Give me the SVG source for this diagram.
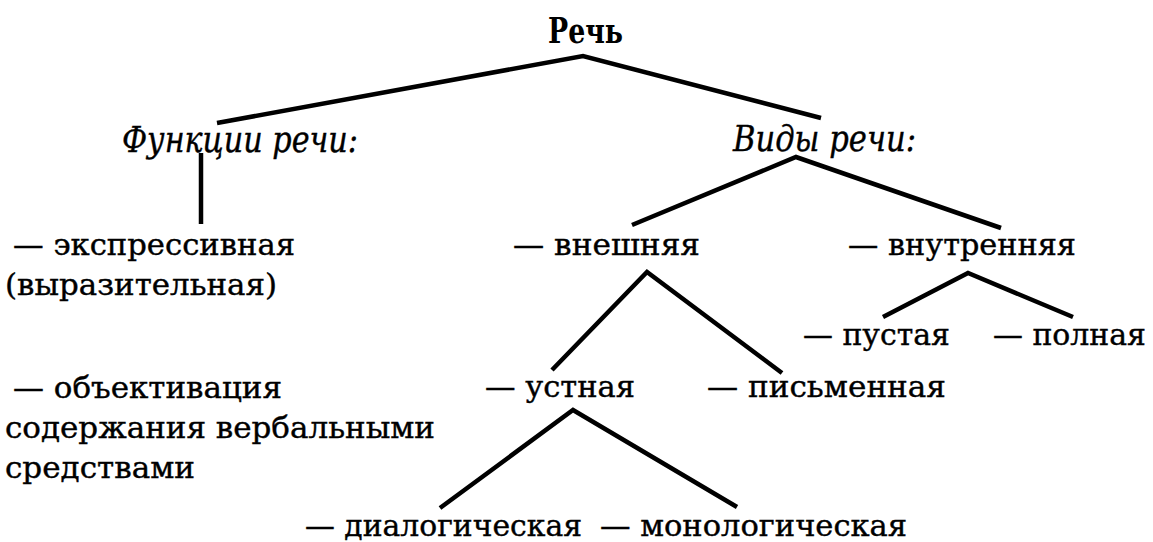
<svg xmlns="http://www.w3.org/2000/svg" width="1153" height="542" viewBox="0 0 1153 542">
<style>
  .t { font-family: "DejaVu Serif", "Liberation Serif", serif; font-size: 30px; fill: #000; stroke: #000; stroke-width: 0.4; }
  .h { font-family: "DejaVu Serif", "Liberation Serif", serif; font-size: 35px; font-style: italic; fill: #000; stroke: #000; stroke-width: 0.4; }
  .r { font-family: "DejaVu Serif", "Liberation Serif", serif; font-size: 36px; font-weight: bold; fill: #000; }
  .c { fill: none; stroke: #000; stroke-width: 4.5; stroke-linejoin: miter; stroke-linecap: butt; }
</style>
<rect width="1153" height="542" fill="#fff"/>
<g id="connectors">
  <polyline class="c" points="217,123 583,56 821,118"/>
  <line class="c" x1="201" y1="153" x2="201" y2="224" stroke-width="5"/>
  <polyline class="c" points="632,225 796,157 1001,228"/>
  <polyline class="c" points="552,370 647,272 782,373"/>
  <polyline class="c" points="883,317 968,273 1073,317"/>
  <polyline class="c" points="440,508 573,410 737,507"/>
</g>
<g id="node-rech"><text class="r" x="548" y="43" textLength="75" lengthAdjust="spacingAndGlyphs">Речь</text></g>
<g id="node-funktsii"><text class="h" x="122" y="152" textLength="236" lengthAdjust="spacingAndGlyphs">Функции речи:</text></g>
<g id="node-vidy"><text class="h" x="733" y="151" textLength="183" lengthAdjust="spacingAndGlyphs">Виды речи:</text></g>
<g id="node-ekspressivnaya">
  <text class="t" x="13" y="255" textLength="282" lengthAdjust="spacingAndGlyphs">— экспрессивная</text>
  <text class="t" x="5" y="295" textLength="272" lengthAdjust="spacingAndGlyphs">(выразительная)</text>
</g>
<g id="node-obektivatsiya">
  <text class="t" x="13" y="398" textLength="269" lengthAdjust="spacingAndGlyphs">— объективация</text>
  <text class="t" x="5" y="438" textLength="430" lengthAdjust="spacingAndGlyphs">содержания вербальными</text>
  <text class="t" x="5" y="478" textLength="190" lengthAdjust="spacingAndGlyphs">средствами</text>
</g>
<g id="node-vneshnyaya"><text class="t" x="513" y="255" textLength="187" lengthAdjust="spacingAndGlyphs">— внешняя</text></g>
<g id="node-vnutrennyaya"><text class="t" x="848" y="255" textLength="228" lengthAdjust="spacingAndGlyphs">— внутренняя</text></g>
<g id="node-pustaya"><text class="t" x="803" y="345" textLength="147" lengthAdjust="spacingAndGlyphs">— пустая</text></g>
<g id="node-polnaya"><text class="t" x="993" y="345" textLength="153" lengthAdjust="spacingAndGlyphs">— полная</text></g>
<g id="node-ustnaya"><text class="t" x="485" y="397" textLength="150" lengthAdjust="spacingAndGlyphs">— устная</text></g>
<g id="node-pismennaya"><text class="t" x="707" y="397" textLength="239" lengthAdjust="spacingAndGlyphs">— письменная</text></g>
<g id="node-dialog"><text class="t" x="305" y="536" textLength="277" lengthAdjust="spacingAndGlyphs">— диалогическая</text></g>
<g id="node-monolog"><text class="t" x="600" y="536" textLength="307" lengthAdjust="spacingAndGlyphs">— монологическая</text></g>
</svg>
